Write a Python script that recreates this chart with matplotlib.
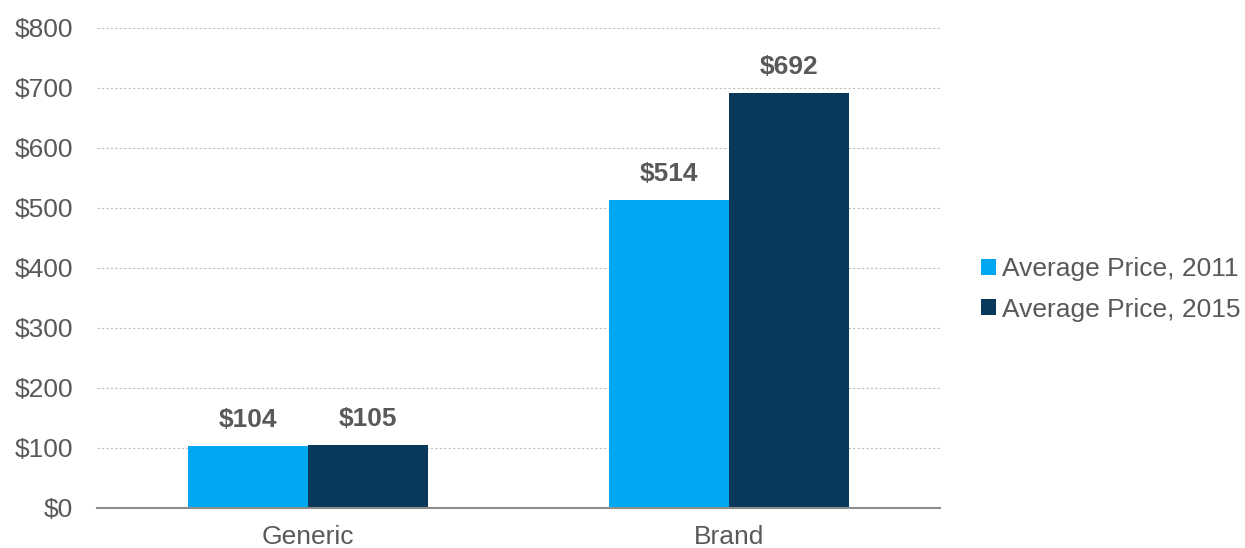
import matplotlib
matplotlib.use("Agg")
import matplotlib.pyplot as plt
import numpy as np

categories = ["Generic", "Brand"]
series_names = ["Average Price, 2011", "Average Price, 2015"]
price_2011 = [104, 514]
price_2015 = [105, 692]
yticks = [0, 100, 200, 300, 400, 500, 600, 700, 800]

colors = ["#00A8F3", "#08385A"]
text_color = "#595959"

plt.rcParams['font.family'] = ['Liberation Sans', 'DejaVu Sans']

fig = plt.figure(figsize=(12.45, 5.48), dpi=100)
ax = fig.add_axes([0.0779, 0.073, 0.677, 0.876])

x = np.arange(len(categories))
w = 0.285
bars1 = ax.bar(x - w/2, price_2011, width=w, color=colors[0], label=series_names[0], zorder=3)
bars2 = ax.bar(x + w/2, price_2015, width=w, color=colors[1], label=series_names[1], zorder=3)

for bars, vals in ((bars1, price_2011), (bars2, price_2015)):
    for b, v in zip(bars, vals):
        ax.annotate(f"${v}", (b.get_x() + b.get_width()/2, v), xytext=(0, 18.5),
                    textcoords="offset points", ha="center", va="center",
                    fontsize=19, fontweight="bold", color=text_color)

ax.set_xlim(-0.5, 1.5)
ax.set_ylim(0, 800)
ax.set_yticks(yticks)
ax.set_yticklabels([f"${t}" for t in yticks])
ax.set_xticks(x)
ax.set_xticklabels(categories)
ax.tick_params(axis="both", length=0, labelsize=19, labelcolor=text_color)
ax.tick_params(axis="y", pad=17)
ax.tick_params(axis="x", pad=12.5)
ax.yaxis.grid(True, linestyle=(0, (2, 2)), color="#BFBFBF", linewidth=0.8, zorder=0)
for s in ["top", "right", "left"]:
    ax.spines[s].set_visible(False)
ax.spines["bottom"].set_color("#8C8C8C")
ax.spines["bottom"].set_linewidth(1.5)
ax.spines["bottom"].set_zorder(4)

leg = ax.legend(loc="center left", bbox_to_anchor=(1.021, 0.455), frameon=False,
                fontsize=19, handlelength=0.55, handleheight=0.55, handletextpad=0.25,
                labelspacing=0.62)
for t in leg.get_texts():
    t.set_color(text_color)

fig.savefig("out.png", dpi=100)
